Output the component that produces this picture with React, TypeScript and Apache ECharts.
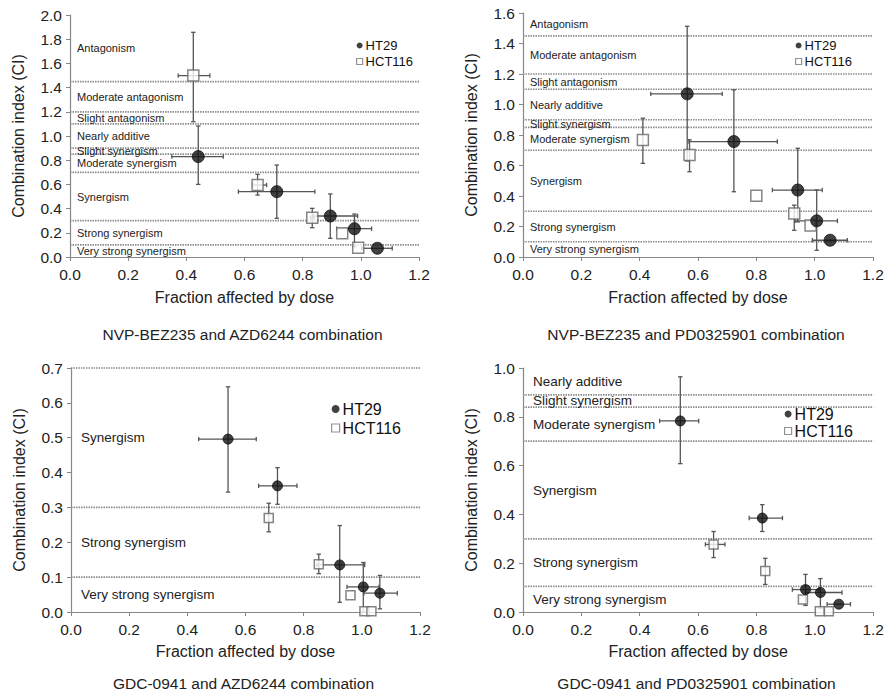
import React, { useEffect, useRef } from "react";
import * as echarts from "echarts";

// Each point: [fraction affected, CI, faLow, faHigh, ciLow, ciHigh]
const p1HT29 = [
  [0.441, 0.83, 0.35, 0.527, 0.6, 1.083],
  [0.711, 0.54, 0.579, 0.842, 0.32, 0.76],
  [0.895, 0.339, 0.837, 0.989, 0.154, 0.521],
  [0.978, 0.234, 0.917, 1.037, 0.085, 0.355],
  [1.057, 0.072, 1.003, 1.108, 0.072, 0.072],
];
const p1HCT116 = [
  [0.424, 1.499, 0.372, 0.481, 1.118, 1.857],
  [0.645, 0.595, 0.628, 0.676, 0.512, 0.683],
  [0.833, 0.325, 0.827, 0.839, 0.242, 0.402],
  [0.936, 0.196, 0.936, 0.936, 0.196, 0.196],
  [0.991, 0.077, 0.991, 0.991, 0.077, 0.077],
];
const p2HT29 = [
  [0.563, 1.07, 0.438, 0.683, 0.63, 1.513],
  [0.723, 0.757, 0.569, 0.872, 0.428, 1.096],
  [0.942, 0.439, 0.855, 1.026, 0.23, 0.713],
  [1.007, 0.237, 0.933, 1.078, 0.044, 0.439],
  [1.053, 0.11, 0.992, 1.112, 0.11, 0.11],
];
const p2HCT116 = [
  [0.411, 0.768, 0.411, 0.411, 0.614, 0.91],
  [0.571, 0.669, 0.571, 0.571, 0.559, 0.768],
  [0.8, 0.401, 0.8, 0.8, 0.401, 0.401],
  [0.93, 0.285, 0.93, 0.93, 0.175, 0.34],
  [0.986, 0.206, 0.986, 0.986, 0.206, 0.206],
];
const p3HT29 = [
  [0.54, 0.496, 0.439, 0.637, 0.344, 0.646],
  [0.71, 0.362, 0.645, 0.777, 0.309, 0.414],
  [0.924, 0.135, 0.845, 1.01, 0.028, 0.248],
  [1.005, 0.072, 0.949, 1.059, 0.0, 0.142],
  [1.062, 0.054, 1.007, 1.122, 0.009, 0.105],
];
const p3HCT116 = [
  [0.68, 0.27, 0.68, 0.68, 0.23, 0.312],
  [0.852, 0.137, 0.852, 0.852, 0.11, 0.166],
  [0.961, 0.048, 0.961, 0.961, 0.048, 0.048],
  [1.009, 0.002, 1.009, 1.009, 0.002, 0.002],
  [1.033, 0.002, 1.033, 1.033, 0.002, 0.002],
];
const p4HT29 = [
  [0.539, 0.783, 0.468, 0.602, 0.608, 0.964],
  [0.82, 0.385, 0.775, 0.889, 0.33, 0.44],
  [0.968, 0.092, 0.923, 1.014, 0.027, 0.154],
  [1.019, 0.08, 0.968, 1.093, 0.014, 0.137],
  [1.082, 0.032, 1.042, 1.122, 0.032, 0.032],
];
const p4HCT116 = [
  [0.653, 0.277, 0.625, 0.692, 0.223, 0.33],
  [0.83, 0.168, 0.83, 0.83, 0.113, 0.22],
  [0.959, 0.051, 0.959, 0.959, 0.051, 0.051],
  [1.017, 0.003, 1.017, 1.017, 0.003, 0.003],
  [1.048, 0.003, 1.048, 1.048, 0.003, 0.003],
];

// CI thresholds (dotted lines) and region names, bottom to top
const regionNames = [
  "Very strong synergism",
  "Strong synergism",
  "Synergism",
  "Moderate synergism",
  "Slight synergism",
  "Nearly additive",
  "Slight antagonism",
  "Moderate antagonism",
  "Antagonism",
];
const p1Thresholds = [0.1, 0.3, 0.7, 0.85, 0.9, 1.1, 1.2, 1.45];
const p2Thresholds = [0.1, 0.3, 0.7, 0.85, 0.9, 1.1, 1.2, 1.45];
const p3Thresholds = [0.1, 0.3, 0.7];
const p4Thresholds = [0.105, 0.3, 0.7, 0.84, 0.89];

const yMaxes = [2.0, 1.6, 0.7, 1.0];
const yIntervals = [0.2, 0.2, 0.1, 0.2];
const xMax = 1.2;
const xInterval = 0.2;

const panelTitles = [
  "NVP-BEZ235 and AZD6244 combination",
  "NVP-BEZ235 and PD0325901 combination",
  "GDC-0941 and AZD6244 combination",
  "GDC-0941 and PD0325901 combination",
];
const xAxisName = "Fraction affected by dose";
const yAxisName = "Combination index (CI)";

const FONT = '"Liberation Sans", Arial, Helvetica, sans-serif';

export default function App() {
  const ref = useRef<HTMLDivElement>(null);

  useEffect(() => {
    if (!ref.current) return;
    const chart = echarts.init(ref.current, undefined, { renderer: "svg" });

    const grids = [
      { left: 70, top: 15, width: 349, height: 242 },
      { left: 523, top: 13, width: 350, height: 244 },
      { left: 71, top: 368, width: 349, height: 244 },
      { left: 523, top: 368, width: 351, height: 244 },
    ];
    const big = [false, false, true, true];

    const panels = [
      { ht: p1HT29, hct: p1HCT116, thr: p1Thresholds },
      { ht: p2HT29, hct: p2HCT116, thr: p2Thresholds },
      { ht: p3HT29, hct: p3HCT116, thr: p3Thresholds },
      { ht: p4HT29, hct: p4HCT116, thr: p4Thresholds },
    ];

    const errorRender = (params: any, api: any) => {
      const x = api.value(0), y = api.value(1);
      const xl = api.value(2), xh = api.value(3), yl = api.value(4), yh = api.value(5);
      const c = api.coord([x, y]);
      const a = api.coord([xl, y]), b = api.coord([xh, y]);
      const d = api.coord([x, yl]), e = api.coord([x, yh]);
      const cap = 2.2;
      const style = { stroke: "#555", lineWidth: 1.3, fill: null };
      const children: any[] = [];
      if (Math.abs(b[0] - a[0]) > 1) {
        children.push({ type: "line", shape: { x1: a[0], y1: c[1], x2: b[0], y2: c[1] }, style });
        children.push({ type: "line", shape: { x1: a[0], y1: c[1] - cap, x2: a[0], y2: c[1] + cap }, style });
        children.push({ type: "line", shape: { x1: b[0], y1: c[1] - cap, x2: b[0], y2: c[1] + cap }, style });
      }
      if (Math.abs(d[1] - e[1]) > 1) {
        children.push({ type: "line", shape: { x1: c[0], y1: d[1], x2: c[0], y2: e[1] }, style });
        children.push({ type: "line", shape: { x1: c[0] - cap, y1: d[1], x2: c[0] + cap, y2: d[1] }, style });
        children.push({ type: "line", shape: { x1: c[0] - cap, y1: e[1], x2: c[0] + cap, y2: e[1] }, style });
      }
      return { type: "group", children };
    };

    const series: any[] = [];
    panels.forEach((p, i) => {
      const yMax = yMaxes[i];
      // threshold lines
      series.push({
        type: "custom",
        xAxisIndex: i,
        yAxisIndex: i,
        silent: true,
        z: 1,
        data: p.thr.map((t) => [0, t]),
        encode: { x: 0, y: 1 },
        renderItem: (params: any, api: any) => {
          const y = api.value(1);
          const s = api.coord([0, y]);
          const t = api.coord([xMax, y]);
          return {
            type: "line",
            shape: { x1: s[0], y1: s[1], x2: t[0], y2: t[1] },
            style: { stroke: "#8c8c8c", lineWidth: 1.7, lineDash: [1.5, 1] },
          };
        },
      });
      // region labels
      const bounds = [0, ...p.thr, yMax];
      const labels = bounds.slice(0, -1).map((lo, k) => ({
        name: regionNames[k],
        value: [0, (lo + bounds[k + 1]) / 2],
      })).filter((d) => d.value[1] < yMax);
      series.push({
        type: "custom",
        xAxisIndex: i,
        yAxisIndex: i,
        silent: true,
        z: 2,
        data: labels,
        encode: { x: 0, y: 1 },
        renderItem: (params: any, api: any) => {
          const pt = api.coord([api.value(0), api.value(1)]);
          return {
            type: "text",
            x: pt[0] + (big[i] ? 10 : 7),
            y: pt[1],
            style: {
              text: labels[params.dataIndex].name,
              fontSize: big[i] ? 13.5 : 11,
              fontFamily: FONT,
              fill: "#222",
              verticalAlign: "middle",
              align: "left",
            },
          };
        },
      });
      // error bars
      [p.hct, p.ht].forEach((arr) => {
        series.push({
          type: "custom",
          xAxisIndex: i,
          yAxisIndex: i,
          silent: true,
          z: 3,
          data: arr,
          encode: { x: 0, y: 1 },
          renderItem: errorRender,
        });
      });
      series.push({
        name: "HCT116",
        type: "scatter",
        xAxisIndex: i,
        yAxisIndex: i,
        z: 4,
        symbol: "rect",
        symbolSize: big[i] ? 9 : 11,
        itemStyle: { color: "#fff", borderColor: "#666", borderWidth: 1.5 },
        data: p.hct.map((d) => [d[0], d[1]]),
      });
      series.push({
        name: "HT29",
        type: "scatter",
        xAxisIndex: i,
        yAxisIndex: i,
        z: 5,
        symbol: "circle",
        symbolSize: big[i] ? 10 : 12,
        itemStyle: { color: "#111", borderColor: "#111" },
        data: p.ht.map((d) => [d[0], d[1]]),
      });
    });

    const legendPos = [
      { left: 356, top: 39, font: 13, icon: 6, gap: 3 },
      { left: 795, top: 39, font: 13, icon: 6, gap: 3 },
      { left: 331, top: 401, font: 16, icon: 8, gap: 3 },
      { left: 784, top: 406, font: 16, icon: 7, gap: 1 },
    ];
    const titleTops = [326, 326, 675, 675];

    const option: any = {
      animation: false,
      backgroundColor: "#fff",
      textStyle: { fontFamily: FONT },
      title: panelTitles.map((t, i) => ({
        text: t,
        left: grids[i].left + grids[i].width / 2 - 2,
        top: titleTops[i],
        padding: 0,
        textAlign: "center",
        textStyle: { fontSize: 15.5, fontWeight: "normal", color: "#222", fontFamily: FONT },
      })),
      legend: legendPos.map((l) => ({
        orient: "vertical",
        left: l.left,
        top: l.top,
        itemWidth: l.icon,
        itemHeight: l.icon,
        itemGap: l.gap,
        padding: 0,
        textStyle: { fontSize: l.font, color: "#111", fontFamily: FONT, padding: [0, 0, 0, -2] },
        data: [
          { name: "HT29", icon: "circle", itemStyle: { color: "#111", borderColor: "#111" } },
          { name: "HCT116", icon: "rect", itemStyle: { color: "#fff", borderColor: "#777", borderWidth: 1.2 } },
        ],
        selectedMode: false,
      })),
      grid: grids.map((g) => ({ ...g, containLabel: false })),
      xAxis: grids.map((g, i) => ({
        type: "value",
        gridIndex: i,
        min: 0,
        max: xMax,
        interval: xInterval,
        name: xAxisName,
        nameLocation: "middle",
        nameGap: i < 2 ? 32 : 31,
        nameTextStyle: { fontSize: 16, color: "#222", fontFamily: FONT },
        axisLine: { show: true, lineStyle: { color: "#888", width: 1.2 } },
        axisTick: { show: true, length: 4, lineStyle: { color: "#888" } },
        axisLabel: {
          fontSize: 15.5,
          color: "#222",
          margin: 9,
          formatter: (v: number) => v.toFixed(1),
        },
        splitLine: { show: false },
      })),
      yAxis: grids.map((g, i) => ({
        type: "value",
        gridIndex: i,
        min: 0,
        max: yMaxes[i],
        interval: yIntervals[i],
        name: yAxisName,
        nameLocation: "middle",
        nameGap: 44,
        nameTextStyle: { fontSize: 16, color: "#222", fontFamily: FONT },
        axisLine: { show: true, lineStyle: { color: "#888", width: 1.2 } },
        axisTick: { show: true, length: 4, lineStyle: { color: "#888" } },
        axisLabel: {
          fontSize: 15.5,
          color: "#222",
          margin: 8,
          formatter: (v: number) => v.toFixed(1),
        },
        splitLine: { show: false },
      })),
      series,
    };

    chart.setOption(option);
    return () => chart.dispose();
  }, []);

  return (
    <div
      ref={ref}
      style={{ position: "fixed", left: 0, top: 0, width: 887, height: 693, background: "#fff" }}
    />
  );
}
